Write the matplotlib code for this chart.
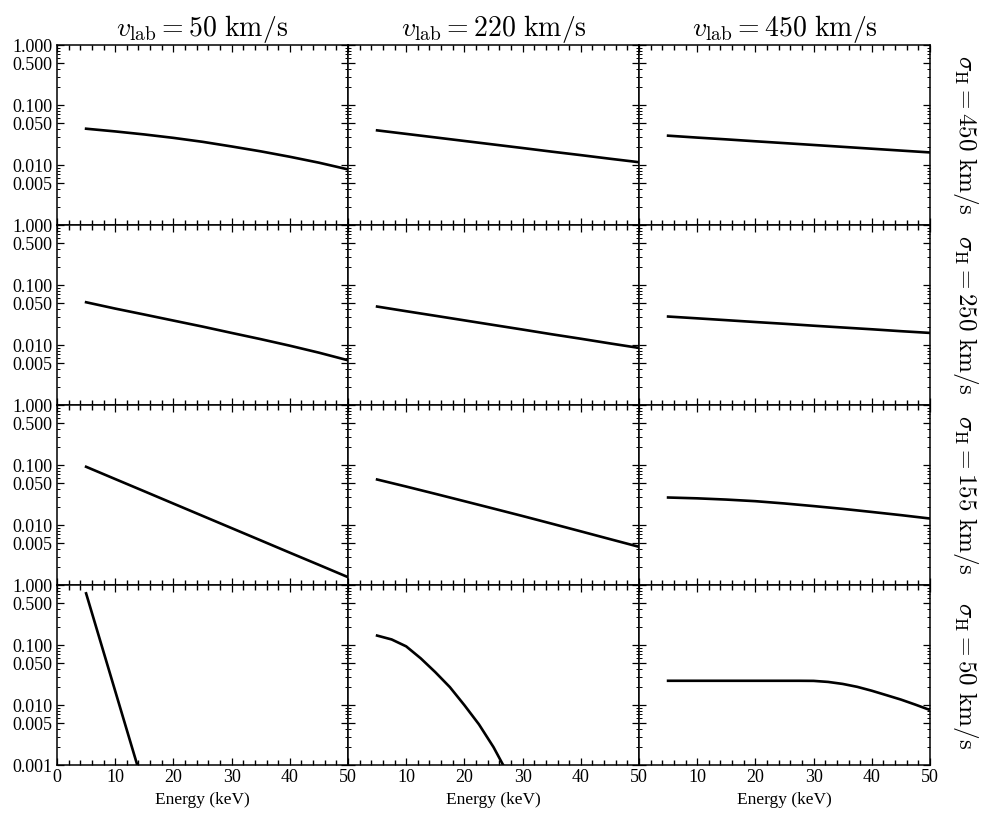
import numpy as np
import matplotlib
matplotlib.use("Agg")
import matplotlib.pyplot as plt
from matplotlib.ticker import LogLocator, NullFormatter, MultipleLocator, FixedLocator

plt.rcParams['font.family'] = 'serif'
plt.rcParams['font.serif'] = ['Liberation Serif', 'DejaVu Serif']
plt.rcParams['mathtext.fontset'] = 'cm'

# column / row parameters
v_lab = [50, 220, 450]
sigma_H = [450, 250, 155, 50]

# energies (keV) used for most curves
E = [5, 10, 15, 20, 25, 30, 35, 40, 45, 50]

# sigma_H = 450 km/s
s450_v50 = [0.0405, 0.0365, 0.0325, 0.0285, 0.0245, 0.0205, 0.0170, 0.0138, 0.0110, 0.0085]
s450_v220 = [0.0380, 0.0332, 0.0290, 0.0253, 0.0221, 0.0193, 0.0168, 0.0147, 0.0128, 0.0112]
s450_v450 = [0.0310, 0.0288, 0.0269, 0.0250, 0.0233, 0.0217, 0.0202, 0.0188, 0.0175, 0.0163]

# sigma_H = 250 km/s
s250_v50 = [0.0519, 0.0407, 0.0324, 0.0257, 0.0204, 0.0160, 0.0126, 0.0098, 0.0075, 0.0056]
s250_v220 = [0.0440, 0.0368, 0.0309, 0.0259, 0.0217, 0.0182, 0.0152, 0.0128, 0.0107, 0.0090]
s250_v450 = [0.0300, 0.0280, 0.0261, 0.0243, 0.0227, 0.0211, 0.0197, 0.0184, 0.0171, 0.0160]

# sigma_H = 155 km/s
s155_v50 = [0.0940, 0.0587, 0.0367, 0.0229, 0.0143, 0.00893, 0.00558, 0.00348, 0.00218, 0.00136]
s155_v220 = [0.0577, 0.0440, 0.0333, 0.0251, 0.0189, 0.0142, 0.0106, 0.00789, 0.00586, 0.00436]
s155_v450 = [0.0289, 0.0280, 0.0267, 0.0251, 0.0230, 0.0208, 0.0187, 0.0166, 0.0147, 0.0129]

# sigma_H = 50 km/s (steeper, own energy grids)
E_s50_v50 = [5, 14]
s50_v50 = [0.73, 0.00086]
E_s50_v220 = [5, 7.5, 10, 12.5, 15, 17.5, 20, 22.5, 25, 27.5]
s50_v220 = [0.1445, 0.1245, 0.0955, 0.0603, 0.0355, 0.0200, 0.0100, 0.00479, 0.00200, 0.00071]
E_s50_v450 = [5, 10, 15, 20, 25, 27.5, 30, 32.5, 35, 37.5, 40, 42.5, 45, 47.5, 50]
s50_v450 = [0.0255, 0.0255, 0.0255, 0.0255, 0.0255, 0.0255, 0.0254, 0.0244, 0.0226,
            0.0202, 0.0174, 0.0147, 0.0124, 0.0102, 0.0083]

curves = [
    [(E, s450_v50), (E, s450_v220), (E, s450_v450)],
    [(E, s250_v50), (E, s250_v220), (E, s250_v450)],
    [(E, s155_v50), (E, s155_v220), (E, s155_v450)],
    [(E_s50_v50, s50_v50), (E_s50_v220, s50_v220), (E_s50_v450, s50_v450)],
]

yticks = [0.001, 0.005, 0.01, 0.05, 0.1, 0.5, 1.0]
xminor = [t for t in range(2, 50, 2) if t % 10 != 0]

fig, axes = plt.subplots(4, 3, figsize=(9.81, 8.21), dpi=100)
fig.subplots_adjust(left=0.0581, right=0.948, top=0.945, bottom=0.068,
                    wspace=0, hspace=0)

for r in range(4):
    for c in range(3):
        ax = axes[r, c]
        x, y = curves[r][c]
        ax.plot(x, y, color='black', lw=1.9)
        ax.set_yscale('log')
        ax.set_ylim(1e-3, 1)
        ax.set_xlim(0, 50)

        ax.set_yticks(yticks)
        ax.yaxis.set_minor_locator(LogLocator(subs=[2, 3, 4, 6, 7, 8, 9]))
        ax.yaxis.set_minor_formatter(NullFormatter())
        if c == 0:
            labs = ['%.3f' % t for t in yticks]
            if r < 3:
                labs[0] = ''
            ax.set_yticklabels(labs)
        else:
            ax.set_yticklabels([])

        ax.set_xticks(np.arange(0, 51, 10))
        ax.set_xticks(xminor, minor=True)
        if r == 3:
            xl = [str(t) for t in range(0, 51, 10)]
            if c > 0:
                xl[0] = ''
            ax.set_xticklabels(xl)
            ax.set_xlabel('Energy (keV)', fontsize=12.5)
        else:
            ax.set_xticklabels([])

        ax.tick_params(which='both', direction='in', top=True, right=True,
                       labelsize=13, pad=3)
        ax.tick_params(which='major', length=5, width=0.9)
        ax.tick_params(axis='x', which='minor', length=3.5, width=1.0)
        ax.tick_params(axis='y', which='minor', length=2, width=0.7)
        for sp in ax.spines.values():
            sp.set_linewidth(1.1)

        if r == 0:
            ax.set_title(r'$v_{\rm lab} = %d\ {\rm km/s}$' % v_lab[c],
                         fontsize=20, pad=5)

    pos = axes[r, 2].get_position()
    fig.text(0.984, 0.5 * (pos.y0 + pos.y1),
             r'$\sigma_{\rm H} = %d\ {\rm km/s}$' % sigma_H[r],
             rotation=-90, ha='center', va='center', fontsize=18)

fig.savefig('out.png', dpi=100)
